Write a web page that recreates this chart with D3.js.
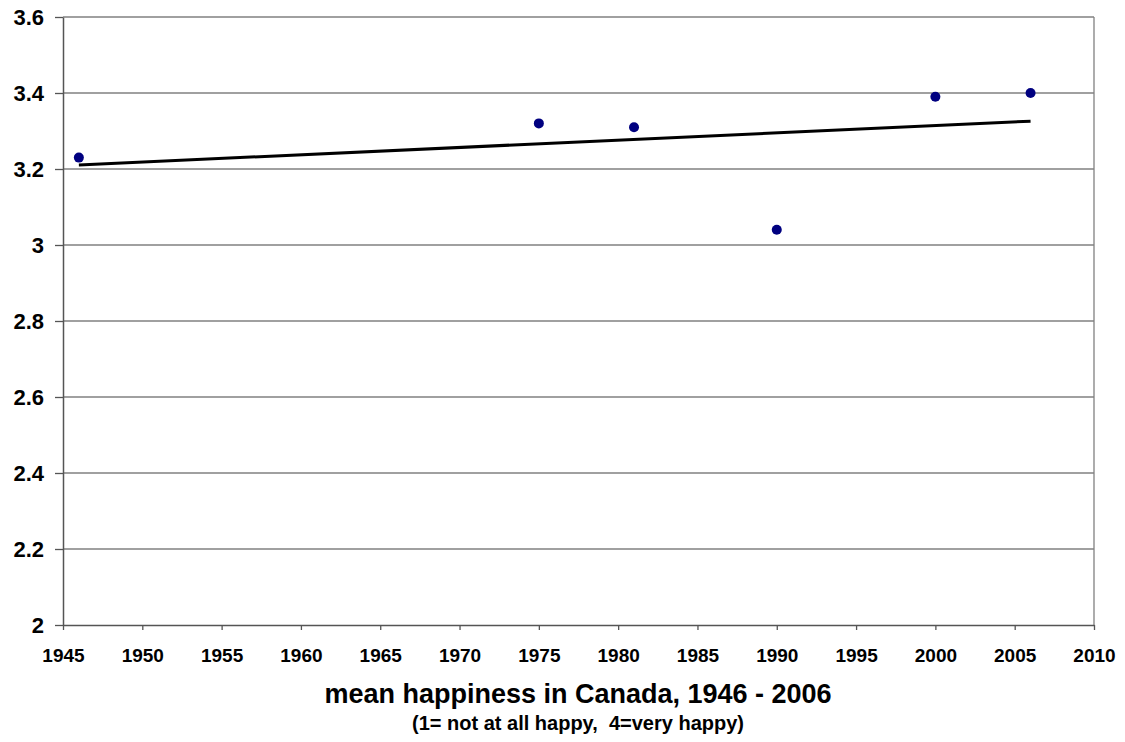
<!DOCTYPE html>
<html><head><meta charset="utf-8">
<script src="https://cdn.jsdelivr.net/npm/d3@7"></script>
<style>body{margin:0;background:#fff}svg{display:block}text{font-family:"Liberation Sans",Arial,sans-serif;font-weight:bold;fill:#000}</style>
</head><body><svg id="c" width="1125" height="742"></svg>
<script>
const years = [1946, 1975, 1981, 1990, 2000, 2006];
const happiness = [3.23, 3.32, 3.31, 3.04, 3.39, 3.40];
const xTicks = [1945,1950,1955,1960,1965,1970,1975,1980,1985,1990,1995,2000,2005,2010];
const yTicks = [2,2.2,2.4,2.6,2.8,3,3.2,3.4,3.6];
const title = "mean happiness in Canada, 1946 - 2006";
const subtitle = "(1= not at all happy,  4=very happy)";

const svg = d3.select("#c");
const L=63, R=1094, T=17, B=625;
const x = d3.scaleLinear().domain([1945,2010]).range([L,R]);
const y = d3.scaleLinear().domain([2,3.6]).range([B,T]);

// gridlines
svg.append("g").selectAll("line").data(yTicks.filter(d=>d>2)).join("line")
  .attr("x1",L).attr("x2",R).attr("y1",d=>y(d)).attr("y2",d=>y(d))
  .attr("stroke","#808080").attr("stroke-width",1.3);
// right border
svg.append("line").attr("x1",R).attr("x2",R).attr("y1",T).attr("y2",B).attr("stroke","#808080").attr("stroke-width",1.3);

// y axis
const ya = svg.append("g").attr("transform",`translate(${L},0)`)
  .call(d3.axisLeft(y).tickValues(yTicks).tickFormat(d=>String(+d.toFixed(1))).tickSize(8).tickSizeOuter(0));
ya.select(".domain").attr("stroke","#555").attr("stroke-width",1.5);
ya.selectAll(".tick line").attr("stroke","#555").attr("stroke-width",1.3);
ya.selectAll("text").attr("x",-19).style("font-size","22px").style("fill","#000");

// x axis
const xa = svg.append("g").attr("transform",`translate(0,${B})`)
  .call(d3.axisBottom(x).tickValues(xTicks).tickFormat(d3.format("d")).tickSize(5).tickSizeOuter(0));
xa.select(".domain").attr("stroke","#555").attr("stroke-width",1.5);
xa.selectAll(".tick line").attr("stroke","#555").attr("stroke-width",1.3);
xa.selectAll("text").attr("y",null).attr("dy",null).attr("y",37).style("font-size","19px").style("fill","#000");

// trend line (least squares)
const mx = d3.mean(years), my = d3.mean(happiness);
const slope = d3.sum(years,(v,i)=>(v-mx)*(happiness[i]-my))/d3.sum(years,v=>(v-mx)*(v-mx));
const fit = v => my + slope*(v-mx);
const x0 = d3.min(years), x1 = d3.max(years);
svg.append("line").attr("x1",x(x0)).attr("y1",y(fit(x0))).attr("x2",x(x1)).attr("y2",y(fit(x1)))
  .attr("stroke","#000").attr("stroke-width",3);

// points
svg.append("g").selectAll("circle").data(years).join("circle")
  .attr("cx",d=>x(d)).attr("cy",(d,i)=>y(happiness[i])).attr("r",5).attr("fill","#000080");

svg.append("text").attr("x",578).attr("y",703).attr("text-anchor","middle").style("font-size","27px").text(title);
svg.append("text").attr("x",578).attr("y",730).attr("text-anchor","middle").style("font-size","20px").style("white-space","pre").text(subtitle);
</script></body></html>
